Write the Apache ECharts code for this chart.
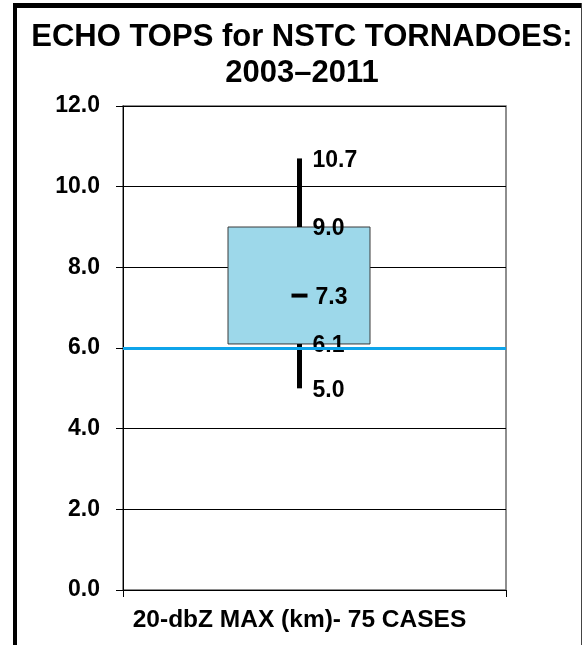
<!DOCTYPE html>
<html>
<head>
<meta charset="utf-8">
<script src="https://cdn.jsdelivr.net/npm/echarts@6/dist/echarts.min.js"></script>
<style>
  html, body { margin: 0; padding: 0; background: #fff; }
  #chart { width: 582px; height: 645px; }
</style>
</head>
<body>
<div id="chart"></div>
<script>
// ---- data ----
const categories = ['20-dbZ MAX (km)- 75 CASES'];
const minValues = [5.0];
const q1Values = [6.1];
const medianValues = [7.3];
const q3Values = [9.0];
const maxValues = [10.7];
const thresholdValues = [6.0];
const titleLines = ['ECHO TOPS for NSTC TORNADOES:', '2003–2011'];
const yMin = 0, yMax = 12, yInterval = 2;

const boxData = categories.map((c, i) => [i, minValues[i], q1Values[i], medianValues[i], q3Values[i], maxValues[i]]);

const FONT = 'Liberation Sans, Arial, Helvetica, sans-serif';
const chart = echarts.init(document.getElementById('chart'), null, { renderer: 'canvas' });

const option = {
  backgroundColor: '#ffffff',
  animation: false,
  title: {
    text: titleLines.join('\n'),
    left: 297,
    top: 14,
    textAlign: 'center',
    textStyle: { fontFamily: FONT, fontSize: 31, fontWeight: 'bold', color: '#000', lineHeight: 36 }
  },
  grid: [
    { left: 123, right: 76, top: 106, bottom: 55, show: true, borderColor: '#6a6a6a', borderWidth: 1.5, backgroundColor: 'transparent' },
    { left: 123, width: 353, top: 106, bottom: 55 }
  ],
  xAxis: [
    {
      type: 'category', gridIndex: 0, data: categories.map(() => ''),
      boundaryGap: true,
      axisLine: { show: true, lineStyle: { color: '#000', width: 1 } },
      axisTick: { show: true, length: 7, lineStyle: { color: '#000', width: 1 } },
      axisLabel: { show: false },
      splitLine: { show: false }
    },
    {
      type: 'category', gridIndex: 1, data: categories,
      boundaryGap: true,
      axisLine: { show: false }, axisTick: { show: false }, splitLine: { show: false },
      axisLabel: { show: true, margin: 18, fontFamily: FONT, fontSize: 24.5, fontWeight: 'bold', color: '#000' }
    }
  ],
  yAxis: [
    {
      type: 'value', gridIndex: 0, min: yMin, max: yMax, interval: yInterval,
      axisLine: { show: true, lineStyle: { color: '#000', width: 1 } },
      axisTick: { show: true, length: 7, lineStyle: { color: '#000', width: 1 } },
      axisLabel: { margin: 23, fontFamily: FONT, fontSize: 23, fontWeight: 'bold', color: '#000', formatter: v => v.toFixed(1) },
      splitLine: { show: true, lineStyle: { color: '#000', width: 1 } }
    },
    {
      type: 'value', gridIndex: 1, min: yMin, max: yMax, interval: yInterval, show: false,
      splitLine: { show: false }
    }
  ],
  series: [
    {
      type: 'line', xAxisIndex: 0, yAxisIndex: 0, data: [], silent: true,
      markLine: {
        silent: true, symbol: 'none', animation: false,
        label: { show: false },
        lineStyle: { color: '#0ea4ea', width: 3, type: 'solid' },
        data: thresholdValues.map(v => ({ yAxis: v }))
      }
    },
    {
      type: 'custom', xAxisIndex: 1, yAxisIndex: 1, data: boxData,
      encode: { x: 0, y: [1, 2, 3, 4, 5] },
      renderItem: function (params, api) {
        const idx = api.value(0);
        const vMin = api.value(1), vQ1 = api.value(2), vMed = api.value(3), vQ3 = api.value(4), vMax = api.value(5);
        const cx = api.coord([idx, vMin])[0];
        const yMinP = api.coord([idx, vMin])[1];
        const yQ1 = api.coord([idx, vQ1])[1];
        const yMed = api.coord([idx, vMed])[1];
        const yQ3 = api.coord([idx, vQ3])[1];
        const yMaxP = api.coord([idx, vMax])[1];
        const halfW = 71;
        const txt = (val, y, dx) => ({
          type: 'text', z2: 10,
          style: { text: val.toFixed(1), x: cx + dx, y: y + 2, textAlign: 'left', textVerticalAlign: 'middle',
                   fontFamily: FONT, fontSize: 23, fontWeight: 'bold', fill: '#000' }
        });
        return {
          type: 'group',
          children: [
            { type: 'rect', shape: { x: cx - halfW - 0.5, y: yQ3, width: halfW * 2, height: yQ1 - yQ3 },
              style: { fill: '#9dd8ea', stroke: '#3a3a3a', lineWidth: 1 } },
            { type: 'line', shape: { x1: cx, y1: yMaxP, x2: cx, y2: yQ3 }, style: { stroke: '#000', lineWidth: 5 } },
            { type: 'line', shape: { x1: cx, y1: yQ1, x2: cx, y2: yMinP }, style: { stroke: '#000', lineWidth: 5 } },
            { type: 'line', shape: { x1: cx - 8, y1: yMed, x2: cx + 8, y2: yMed }, style: { stroke: '#000', lineWidth: 4 } },
            txt(vMax, yMaxP, 13),
            txt(vQ3, yQ3, 13),
            txt(vMed, yMed, 16),
            txt(vQ1, yQ1, 13),
            txt(vMin, yMinP, 13)
          ]
        };
      }
    }
  ],
  graphic: [
    { type: 'line', shape: { x1: 15, y1: 3, x2: 15, y2: 645 }, style: { stroke: '#000', lineWidth: 4 }, z: 100 },
    { type: 'line', shape: { x1: 13, y1: 5.5, x2: 582, y2: 5.5 }, style: { stroke: '#000', lineWidth: 5 }, z: 100 },
    { type: 'line', shape: { x1: 581.5, y1: 3, x2: 581.5, y2: 645 }, style: { stroke: '#444', lineWidth: 1 }, z: 100 }
  ]
};
chart.setOption(option);
</script>
</body>
</html>
